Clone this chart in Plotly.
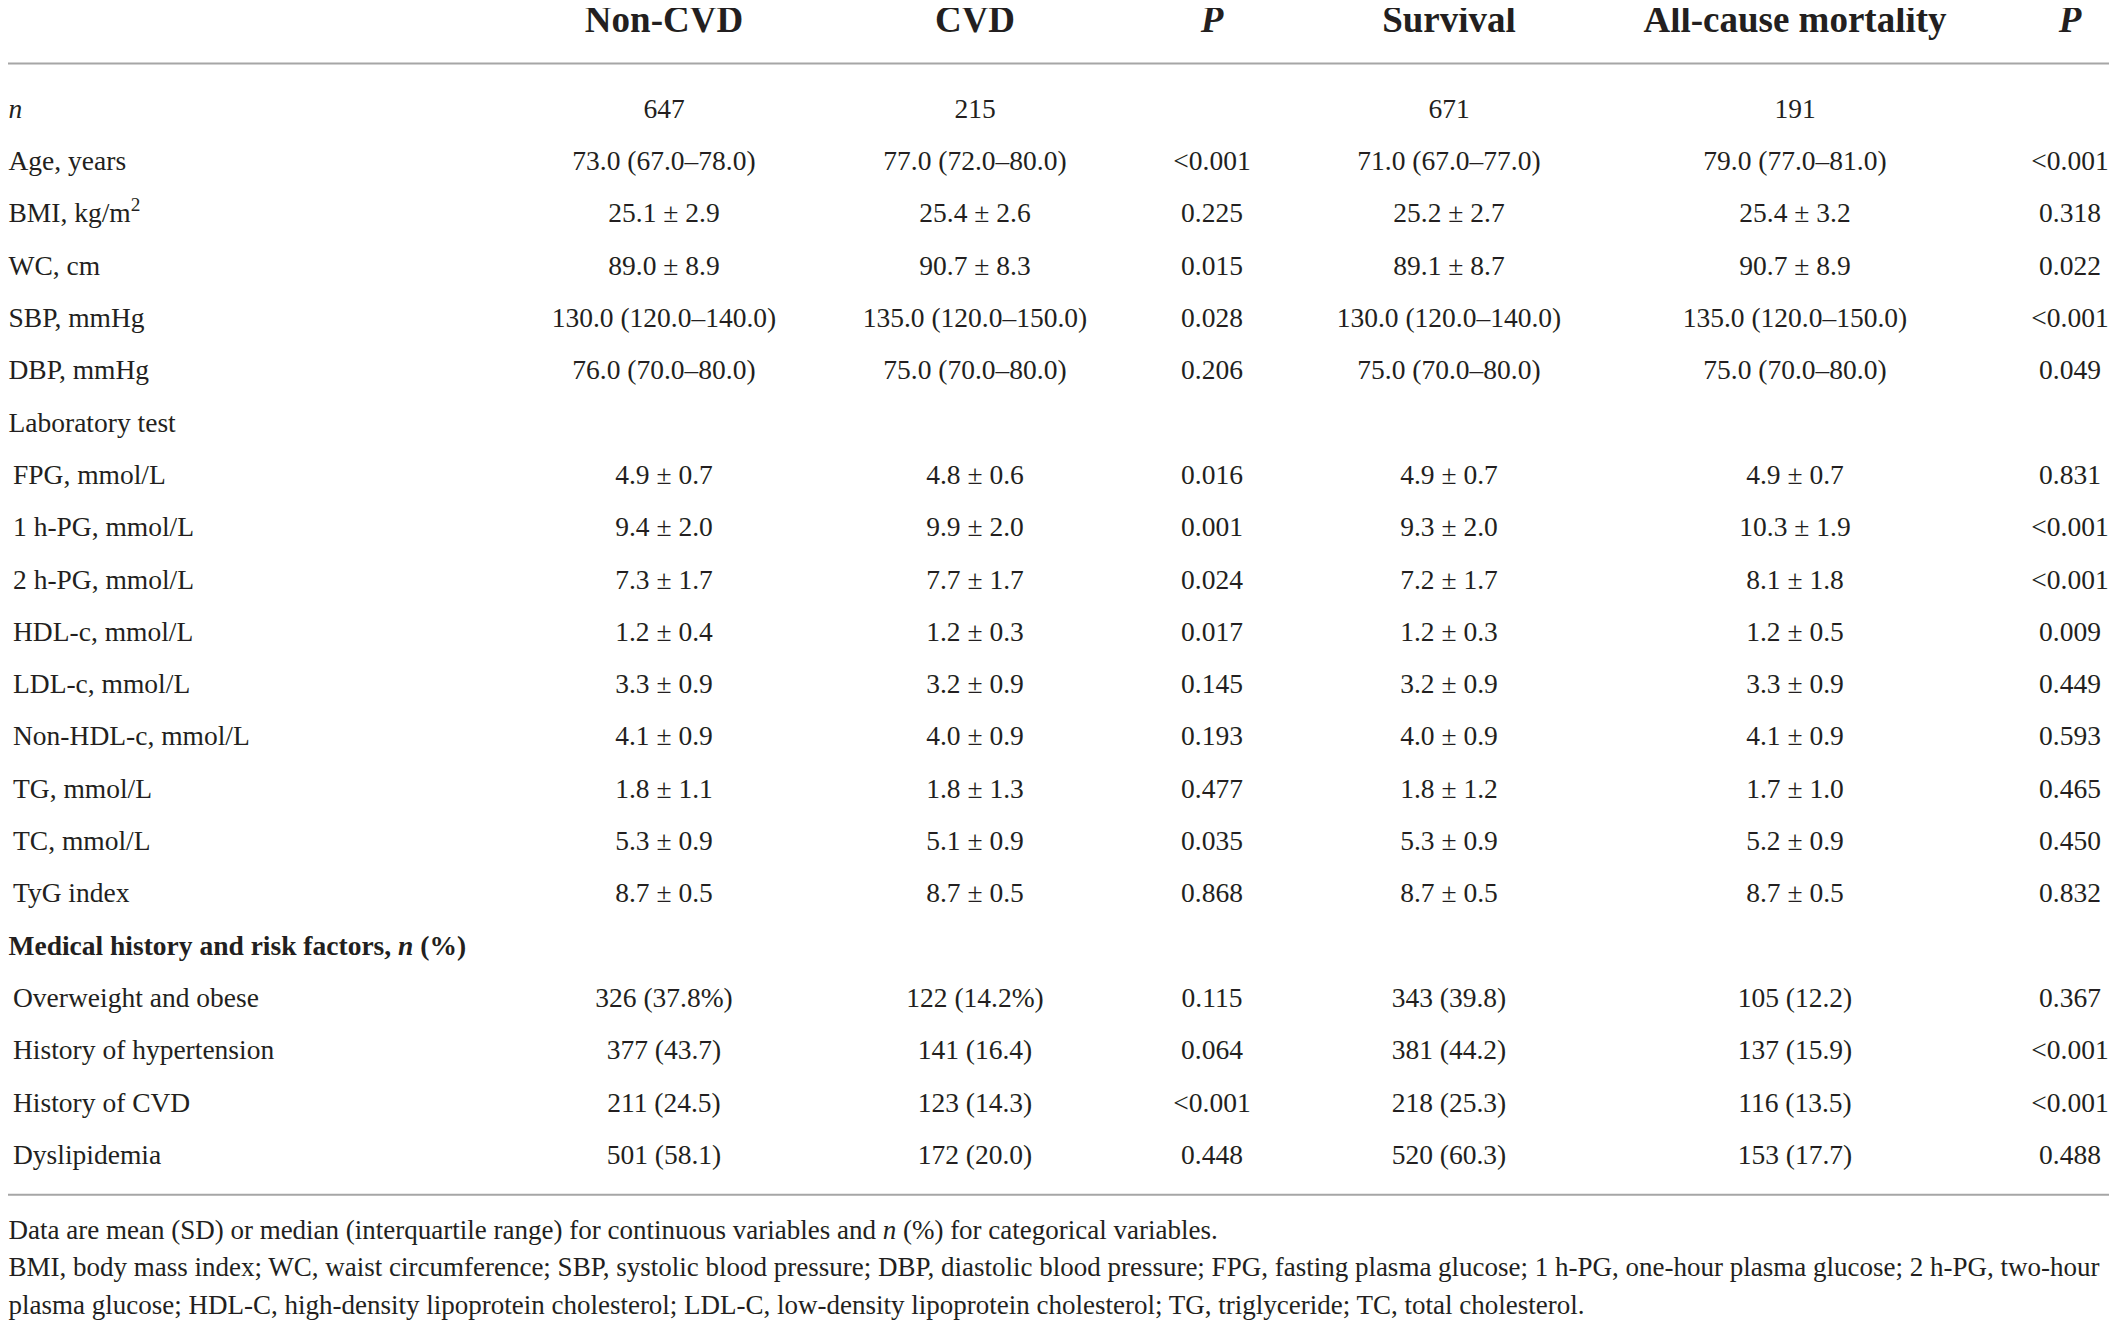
import plotly.graph_objects as go

# table content
headers = ["Non-CVD", "CVD", "<i>P</i>", "Survival", "All-cause mortality", "<i>P</i>"]

labels = ["<i>n</i>", "Age, years", "BMI, kg/m<sup>2</sup>", "WC, cm", "SBP, mmHg", "DBP, mmHg",
          "Laboratory test", "FPG, mmol/L", "1 h-PG, mmol/L", "2 h-PG, mmol/L", "HDL-c, mmol/L",
          "LDL-c, mmol/L", "Non-HDL-c, mmol/L", "TG, mmol/L", "TC, mmol/L", "TyG index",
          "<b>Medical history and risk factors, <i>n</i> (%)</b>", "Overweight and obese",
          "History of hypertension", "History of CVD", "Dyslipidemia"]
# 1 = sub-item (indented)
level = [0, 0, 0, 0, 0, 0, 0, 1, 1, 1, 1, 1, 1, 1, 1, 1, 0, 1, 1, 1, 1]

non_cvd = ["647", "73.0 (67.0–78.0)", "25.1 ± 2.9", "89.0 ± 8.9", "130.0 (120.0–140.0)",
           "76.0 (70.0–80.0)", "", "4.9 ± 0.7", "9.4 ± 2.0", "7.3 ± 1.7", "1.2 ± 0.4", "3.3 ± 0.9",
           "4.1 ± 0.9", "1.8 ± 1.1", "5.3 ± 0.9", "8.7 ± 0.5", "", "326 (37.8%)", "377 (43.7)",
           "211 (24.5)", "501 (58.1)"]
cvd = ["215", "77.0 (72.0–80.0)", "25.4 ± 2.6", "90.7 ± 8.3", "135.0 (120.0–150.0)",
       "75.0 (70.0–80.0)", "", "4.8 ± 0.6", "9.9 ± 2.0", "7.7 ± 1.7", "1.2 ± 0.3", "3.2 ± 0.9",
       "4.0 ± 0.9", "1.8 ± 1.3", "5.1 ± 0.9", "8.7 ± 0.5", "", "122 (14.2%)", "141 (16.4)",
       "123 (14.3)", "172 (20.0)"]
p_cvd = ["", "<0.001", "0.225", "0.015", "0.028", "0.206", "", "0.016", "0.001", "0.024", "0.017",
         "0.145", "0.193", "0.477", "0.035", "0.868", "", "0.115", "0.064", "<0.001", "0.448"]
survival = ["671", "71.0 (67.0–77.0)", "25.2 ± 2.7", "89.1 ± 8.7", "130.0 (120.0–140.0)",
            "75.0 (70.0–80.0)", "", "4.9 ± 0.7", "9.3 ± 2.0", "7.2 ± 1.7", "1.2 ± 0.3", "3.2 ± 0.9",
            "4.0 ± 0.9", "1.8 ± 1.2", "5.3 ± 0.9", "8.7 ± 0.5", "", "343 (39.8)", "381 (44.2)",
            "218 (25.3)", "520 (60.3)"]
mortality = ["191", "79.0 (77.0–81.0)", "25.4 ± 3.2", "90.7 ± 8.9", "135.0 (120.0–150.0)",
             "75.0 (70.0–80.0)", "", "4.9 ± 0.7", "10.3 ± 1.9", "8.1 ± 1.8", "1.2 ± 0.5", "3.3 ± 0.9",
             "4.1 ± 0.9", "1.7 ± 1.0", "5.2 ± 0.9", "8.7 ± 0.5", "", "105 (12.2)", "137 (15.9)",
             "116 (13.5)", "153 (17.7)"]
p_mort = ["", "<0.001", "0.318", "0.022", "<0.001", "0.049", "", "0.831", "<0.001", "<0.001", "0.009",
          "0.449", "0.593", "0.465", "0.450", "0.832", "", "0.367", "<0.001", "<0.001", "0.488"]

footnotes = [
    "Data are mean (SD) or median (interquartile range) for continuous variables and <i>n</i> (%) for categorical variables.",
    "BMI, body mass index; WC, waist circumference; SBP, systolic blood pressure; DBP, diastolic blood pressure; FPG, fasting plasma glucose; 1 h-PG, one-hour plasma glucose; 2 h-PG, two-hour",
    "plasma glucose; HDL-C, high-density lipoprotein cholesterol; LDL-C, low-density lipoprotein cholesterol; TG, triglyceride; TC, total cholesterol.",
]

columns = [non_cvd, cvd, p_cvd, survival, mortality, p_mort]
col_x = [664, 975, 1212, 1449, 1795, 2070]

INK = "#231f20"
FONT = "Liberation Serif"
DY = 0.057  # plotly centres text slightly high; nudge down ~3px
rows = list(range(len(labels)))

fig = go.Figure()

# header row
fig.add_trace(go.Scatter(x=col_x, y=[-1.68 + DY] * len(headers), mode="text",
                         text=["<b>%s</b>" % h for h in headers], textposition="middle center",
                         textfont=dict(family=FONT, size=37, color=INK), hoverinfo="skip",
                         cliponaxis=False))

# row labels
for lv, x0 in [(0, 8.5), (1, 13)]:
    ys = [r for r in rows if level[r] == lv]
    fig.add_trace(go.Scatter(x=[x0] * len(ys), y=[r + DY for r in ys], mode="text",
                             text=[labels[r] for r in ys], textposition="middle right",
                             textfont=dict(family=FONT, size=27.5, color=INK), hoverinfo="skip",
                             cliponaxis=False))

# value columns (empty cells skipped)
for cx, vals in zip(col_x, columns):
    ys = [r for r in rows if vals[r]]
    fig.add_trace(go.Scatter(x=[cx] * len(ys), y=[r + DY for r in ys], mode="text",
                             text=[vals[r].replace("<", "&lt;") for r in ys], textposition="middle center",
                             textfont=dict(family=FONT, size=27.5, color=INK), hoverinfo="skip",
                             cliponaxis=False))

# footnotes
fig.add_trace(go.Scatter(x=[8.5] * len(footnotes), y=[21.43 + DY, 22.14 + DY, 22.87 + DY], mode="text",
                         text=footnotes, textposition="middle right",
                         textfont=dict(family=FONT, size=27, color=INK), hoverinfo="skip",
                         cliponaxis=False))

# horizontal rules
for yr in [-0.85, 20.78]:
    fig.add_shape(type="line", x0=8, x1=2112, y0=yr, y1=yr, xref="x", yref="y",
                  line=dict(color="#a6a6a6", width=2))

# the page body has an 8px margin, so the plot area starts at page pixel 8
fig.update_xaxes(range=[8, 2117], visible=False, fixedrange=True)
fig.update_yaxes(range=[23.27, -1.912], visible=False, fixedrange=True)
fig.update_layout(width=2109, height=1317, margin=dict(l=0, r=0, t=0, b=0),
                  plot_bgcolor="white", paper_bgcolor="white", showlegend=False)

fig.write_html("out.html")
